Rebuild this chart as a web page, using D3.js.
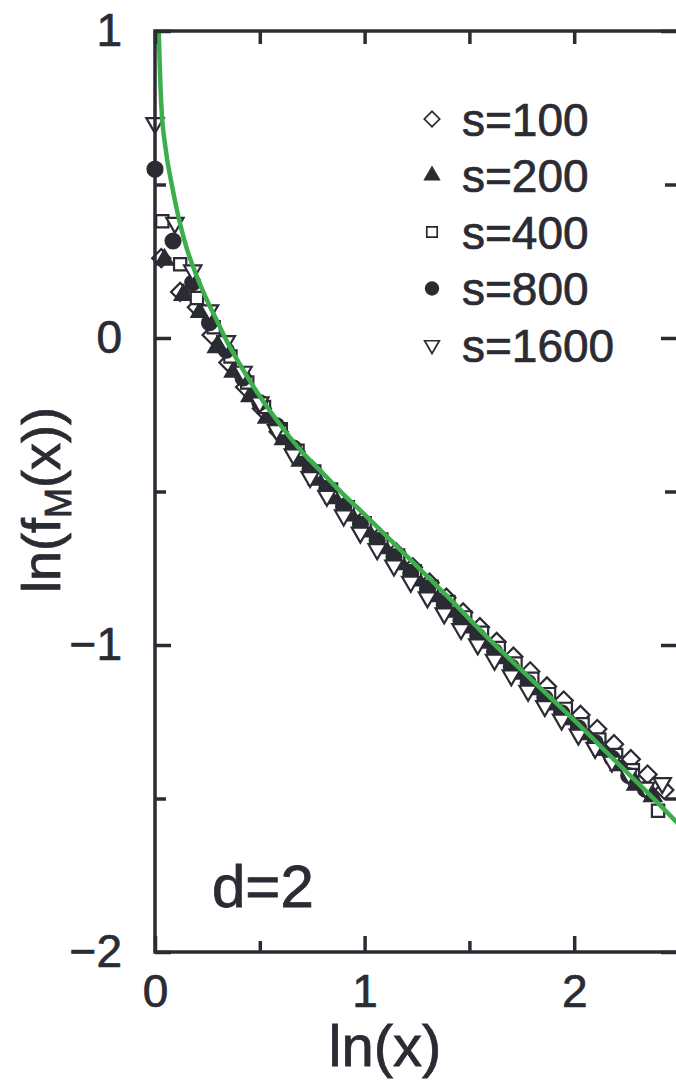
<!DOCTYPE html>
<html><head><meta charset="utf-8">
<script src="https://cdn.jsdelivr.net/npm/d3@7"></script>
<style>html,body{margin:0;padding:0;background:#fff;} svg{display:block;}</style>
</head><body>
<svg id="chart" width="676" height="1081"></svg>
<script>
// ---- data ----
const fitX = [0.014,0.018,0.03,0.05,0.08,0.11,0.15,0.2,0.25,0.3,0.35,0.4,0.5,0.6,0.7,0.8,0.9,1.0,1.2,1.4,1.6,1.8,2.0,2.2,2.4,2.5];
const fitY = [1.12,1.0,0.76,0.62,0.50,0.40,0.295,0.2,0.12,0.05,-0.02,-0.08,-0.19,-0.285,-0.37,-0.44,-0.51,-0.575,-0.71,-0.845,-0.985,-1.115,-1.245,-1.38,-1.515,-1.585];

const s100X = [0.03,0.12,0.20,0.27,0.35,0.43,0.51,0.59,0.67,0.75,0.83,0.91,0.99,1.07,1.15,1.23,1.31,1.39,1.47,1.55,1.63,1.71,1.79,1.87,1.95,2.03,2.11,2.19,2.27,2.35,2.43];
const s100Y = [0.26,0.15,0.10,0.01,-0.08,-0.16,-0.23,-0.305,-0.37,-0.43,-0.49,-0.545,-0.596,-0.648,-0.698,-0.747,-0.797,-0.846,-0.894,-0.942,-0.99,-1.038,-1.086,-1.135,-1.181,-1.228,-1.274,-1.323,-1.372,-1.422,-1.472];

const s200X = [0.045,0.135,0.215,0.295,0.375,0.455,0.535,0.615,0.695,0.775,0.855,0.935,1.015,1.095,1.175,1.255,1.335,1.415,1.495,1.575,1.655,1.735,1.815,1.895,1.975,2.055,2.135,2.215,2.295,2.375];
const s200Y = [0.255,0.14,0.085,-0.03,-0.11,-0.19,-0.26,-0.33,-0.40,-0.462,-0.522,-0.578,-0.63,-0.685,-0.737,-0.79,-0.841,-0.892,-0.943,-0.993,-1.043,-1.094,-1.144,-1.194,-1.242,-1.291,-1.342,-1.392,-1.455,-1.493];

const s400X = [0.035,0.12,0.20,0.28,0.36,0.44,0.52,0.60,0.68,0.76,0.84,0.92,1.00,1.08,1.16,1.24,1.32,1.40,1.48,1.56,1.64,1.72,1.80,1.88,1.96,2.04,2.12,2.20,2.28,2.40];
const s400Y = [0.38,0.24,0.13,0.035,-0.06,-0.145,-0.225,-0.297,-0.367,-0.435,-0.493,-0.551,-0.603,-0.656,-0.708,-0.76,-0.81,-0.86,-0.91,-0.96,-1.01,-1.06,-1.11,-1.16,-1.208,-1.258,-1.308,-1.358,-1.408,-1.54];

const s800X = [0,0.086,0.18,0.26,0.34,0.42,0.50,0.58,0.66,0.74,0.82,0.90,0.98,1.06,1.14,1.22,1.30,1.38,1.46,1.54,1.62,1.70,1.78,1.86,1.94,2.02,2.10,2.18,2.26,2.34];
const s800Y = [0.55,0.316,0.18,0.05,-0.04,-0.13,-0.21,-0.285,-0.358,-0.428,-0.49,-0.55,-0.607,-0.661,-0.714,-0.767,-0.818,-0.87,-0.921,-0.971,-1.021,-1.072,-1.122,-1.172,-1.221,-1.27,-1.318,-1.368,-1.425,-1.47];

const s1600X = [0,0.095,0.18,0.26,0.34,0.42,0.50,0.58,0.66,0.74,0.82,0.90,0.98,1.06,1.14,1.22,1.30,1.38,1.46,1.54,1.62,1.70,1.78,1.86,1.94,2.02,2.10,2.18,2.26,2.34,2.42];
const s1600Y = [0.70,0.375,0.22,0.09,-0.01,-0.11,-0.21,-0.30,-0.379,-0.453,-0.514,-0.578,-0.634,-0.688,-0.741,-0.794,-0.845,-0.897,-0.948,-0.998,-1.048,-1.099,-1.149,-1.199,-1.243,-1.292,-1.335,-1.38,-1.42,-1.465,-1.45];

const seriesNames = ["s=100","s=200","s=400","s=800","s=1600"];
const xMajorTicks = [0,1,2];
const xMinorTicks = [0.5,1.5];
const yMajorTicks = [-2,-1,0,1];
const yMinorTicks = [-1.5,-0.5,0.5];

// ---- drawing ----
const W = 676, H = 1081;
const ink = "#2b2b33";
const green = "#3cae4c";
const font = "'Liberation Sans', Arial, Helvetica, sans-serif";
const x = d3.scaleLinear().domain([0,2.5]).range([155,679]);
const y = d3.scaleLinear().domain([-2,1]).range([952,31]);

const svg = d3.select("#chart");
svg.append("rect").attr("width",W).attr("height",H).attr("fill","#fff");
svg.append("defs").append("clipPath").attr("id","clip")
  .append("rect").attr("x",x(0)).attr("y",y(1)).attr("width",x(2.5)-x(0)).attr("height",y(-2)-y(1));

const styles = [
  {path: d3.symbol().type(d3.symbolSquare).size(165)(), rot: 45, fill: "#fff"},
  {path: d3.symbol().type(d3.symbolTriangle).size(125)(), rot: 0, fill: ink},
  {path: d3.symbol().type(d3.symbolSquare).size(150)(), rot: 0, fill: "#fff"},
  {path: d3.symbol().type(d3.symbolCircle).size(175)(), rot: 0, fill: ink},
  {path: d3.symbol().type(d3.symbolTriangle).size(130)(), rot: 180, fill: "#fff"}
];
const seriesX = [s100X,s200X,s400X,s800X,s1600X];
const seriesY = [s100Y,s200Y,s400Y,s800Y,s1600Y];

const gPts = svg.append("g");
seriesX.forEach((xs,i)=>{
  const st = styles[i];
  const pts = xs.map((v,j)=>({x:v,y:seriesY[i][j]}));
  gPts.append("g").selectAll("path").data(pts).join("path")
    .attr("d", st.path)
    .attr("transform", d=>`translate(${x(d.x)},${y(d.y)}) rotate(${st.rot})`)
    .attr("fill", st.fill)
    .attr("stroke", ink).attr("stroke-width", 2.2).attr("stroke-linejoin","miter");
});

// fitted curve
const fit = fitX.map((v,i)=>({x:v,y:fitY[i]}));
svg.append("path").datum(fit)
  .attr("clip-path","url(#clip)")
  .attr("d", d3.line().x(d=>x(d.x)).y(d=>y(d.y)).curve(d3.curveMonotoneX))
  .attr("fill","none").attr("stroke",green).attr("stroke-width",4.5);

// frame
svg.append("rect").attr("x",x(0)).attr("y",y(1)).attr("width",x(2.5)-x(0)).attr("height",y(-2)-y(1))
  .attr("fill","none").attr("stroke",ink).attr("stroke-width",3.5);

function styleAxis(g, labelSize){
  g.select(".domain").remove();
  g.selectAll(".tick line").attr("stroke",ink).attr("stroke-width",3.5);
  g.selectAll(".tick text").attr("fill",ink).attr("font-family",font).attr("font-size",labelSize)
    .attr("stroke",ink).attr("stroke-width",0.7);
}
const fmt = d3.format("d");
// bottom
svg.append("g").attr("transform",`translate(0,${y(-2)})`)
  .call(d3.axisBottom(x).tickValues(xMajorTicks).tickSize(-16).tickPadding(22).tickFormat(fmt))
  .call(g=>styleAxis(g,46));
svg.append("g").attr("transform",`translate(0,${y(-2)})`)
  .call(d3.axisBottom(x).tickValues(xMinorTicks).tickSize(-11).tickFormat(""))
  .call(g=>styleAxis(g,46));
// top
svg.append("g").attr("transform",`translate(0,${y(1)})`)
  .call(d3.axisTop(x).tickValues(xMajorTicks.concat(xMinorTicks)).tickSize(-13).tickFormat(""))
  .call(g=>styleAxis(g,46));
// left
svg.append("g").attr("transform",`translate(${x(0)},0)`)
  .call(d3.axisLeft(y).tickValues(yMajorTicks).tickSize(-16).tickPadding(33).tickFormat(fmt))
  .call(g=>styleAxis(g,46));
svg.append("g").attr("transform",`translate(${x(0)},0)`)
  .call(d3.axisLeft(y).tickValues(yMinorTicks).tickSize(-11).tickFormat(""))
  .call(g=>styleAxis(g,46));
// right
svg.append("g").attr("transform",`translate(${x(2.5)},0)`)
  .call(d3.axisRight(y).tickValues(yMajorTicks).tickSize(-18).tickFormat(""))
  .call(g=>styleAxis(g,46));
svg.append("g").attr("transform",`translate(${x(2.5)},0)`)
  .call(d3.axisRight(y).tickValues(yMinorTicks).tickSize(-14).tickFormat(""))
  .call(g=>styleAxis(g,46));

// legend
const leg = svg.append("g");
seriesNames.forEach((name,i)=>{
  const cy = 119 + i*56.5;
  const st = styles[i];
  leg.append("path").attr("d",st.path)
    .attr("transform",`translate(432,${cy}) rotate(${st.rot}) scale(0.85)`)
    .attr("fill",st.fill).attr("stroke",ink).attr("stroke-width",2);
  leg.append("text").attr("x",462).attr("y",cy).attr("dy","0.36em")
    .attr("font-family",font).attr("font-size",46).attr("fill",ink)
    .attr("stroke",ink).attr("stroke-width",0.7).text(name);
});

// annotation
svg.append("text").attr("x",212).attr("y",907).attr("font-family",font).attr("font-size",60)
  .attr("fill",ink).attr("stroke",ink).attr("stroke-width",0.8).text("d=2");

// axis titles
svg.append("text").attr("x",385).attr("y",1066).attr("text-anchor","middle")
  .attr("font-family",font).attr("font-size",58).attr("fill",ink)
  .attr("stroke",ink).attr("stroke-width",0.8).text("ln(x)");
const yt = svg.append("text").attr("transform","translate(60,500) rotate(-90)")
  .attr("text-anchor","middle").attr("font-family",font).attr("font-size",54).attr("fill",ink)
  .attr("stroke",ink).attr("stroke-width",0.8);
yt.append("tspan").text("ln(f");
yt.append("tspan").attr("font-size",36).attr("dy",11).text("M");
yt.append("tspan").attr("dy",-11).text("(x))");
</script>
</body></html>
